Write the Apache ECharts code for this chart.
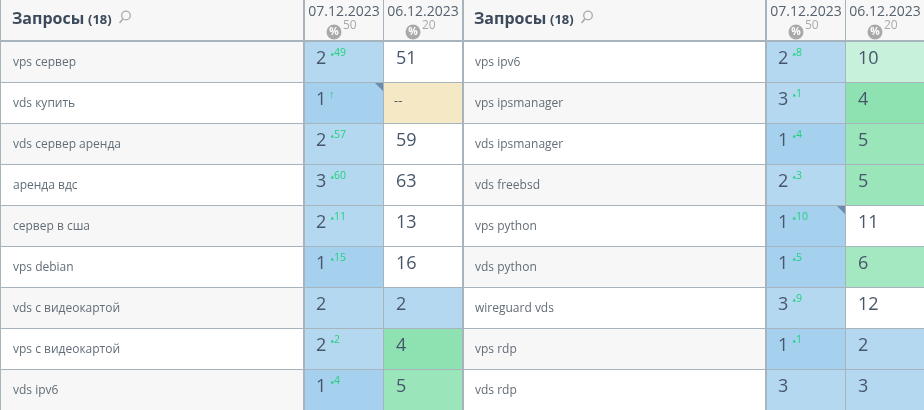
<!DOCTYPE html>
<html><head><meta charset="utf-8">
<style>html,body{margin:0;padding:0;background:#a7b3bd;overflow:hidden}#c{width:924px;height:410px}</style>
<script src="https://cdn.jsdelivr.net/npm/echarts@6/dist/echarts.min.js"></script>
</head><body><div id="c"></div>
<script>
const headerTitle = 'Запросы', headerCount = '(18)';
const dateNew = '07.12.2023', dateOld = '06.12.2023';
const thresholdNew = '50', thresholdOld = '20';
const queriesLeft = ['vps сервер','vds купить','vds сервер аренда','аренда вдс','сервер в сша','vps debian','vds с видеокартой','vps с видеокартой','vds ipv6'];
const rankLeft = [2,1,2,3,2,1,2,2,1];
const deltaLeft = [49,'↑',57,60,11,15,null,2,4];
const prevLeft = [51,'--',59,63,13,16,2,4,5];
const flagLeft = [0,1,0,0,0,0,0,0,0];
const queriesRight = ['vps ipv6','vps ipsmanager','vds ipsmanager','vds freebsd','vps python','vds python','wireguard vds','vps rdp','vds rdp'];
const rankRight = [2,3,1,2,1,1,3,1,3];
const deltaRight = [8,1,4,3,10,5,9,1,null];
const prevRight = [10,4,5,5,11,6,12,2,3];
const flagRight = [0,0,0,0,1,0,0,0,0];

const FONT = '"Open Sans", sans-serif';
const INK = '#47566a', TEXT = '#626d77', GREEN = '#1fd27c', GREY = '#a9a9a9';
function rankColor(v){ return v === 1 ? '#a5d1ef' : '#b5d8f1'; }
function prevColor(v){
  if (v === '--') return '#f5e8c5';
  return ({2:'#b5d8f1',3:'#b5d8f1',4:'#8ee1b1',5:'#9ae5b9',6:'#a3e8c1',10:'#c8f1db'})[v] || '#ffffff';
}
function cellTop(api,i){ return api.coord([0,i])[1] - api.size([0,1])[1]/2 + 1; }

function queryRender(names, firstGrey, pad){
  return function(p, api){
    const i = p.dataIndex, c = p.coordSys, y = cellTop(api,i);
    const bg = (i % 2 === 0) === firstGrey ? '#f7f7f7' : '#ffffff';
    return {type:'group',children:[
      {type:'rect',shape:{x:c.x,y:y,width:c.width,height:40},style:{fill:bg}},
      {type:'text',style:{x:c.x+pad,y:y+21,text:names[i],fill:TEXT,font:'12px '+FONT,verticalAlign:'middle'}}
    ]};
  };
}
function rankRender(vals, deltas, flags){
  return function(p, api){
    const i = p.dataIndex, c = p.coordSys, y = cellTop(api,i), x = c.x;
    const ch = [
      {type:'rect',shape:{x:x,y:y,width:c.width,height:40},style:{fill:rankColor(vals[i])}},
      {type:'text',style:{x:x+11,y:y+17,text:String(vals[i]),fill:INK,font:'18px '+FONT,verticalAlign:'middle'}}
    ];
    const d = deltas[i];
    if (d === '↑') {
      ch.push({type:'text',style:{x:x+24,y:y+12,text:d,fill:GREEN,font:'11px '+FONT,verticalAlign:'middle'}});
    } else if (d !== null) {
      ch.push({type:'polygon',shape:{points:[[x+25.5,y+13.5],[x+29,y+13.5],[x+27.25,y+10.5]]},style:{fill:GREEN}});
      ch.push({type:'text',style:{x:x+29,y:y+11.5,text:String(d),fill:GREEN,font:'10.5px '+FONT,verticalAlign:'middle'}});
    }
    if (flags[i]) {
      ch.push({type:'polygon',shape:{points:[[x+c.width-8,y],[x+c.width,y],[x+c.width,y+8]]},style:{fill:'#6c8cab'}});
    }
    return {type:'group',children:ch};
  };
}
function prevRender(vals){
  return function(p, api){
    const i = p.dataIndex, c = p.coordSys, y = cellTop(api,i), v = vals[i];
    const dash = v === '--';
    return {type:'group',children:[
      {type:'rect',shape:{x:c.x,y:y,width:c.width,height:40},style:{fill:prevColor(v)}},
      {type:'text',style:{x:c.x+(dash?10:12),y:y+(dash?18:17),text:String(v),fill:INK,font:(dash?'13px ':'18px ')+FONT,verticalAlign:'middle'}}
    ]};
  };
}

const cols = [
  {left:1,width:302,pad:12,names:queriesLeft,render:queryRender(queriesLeft,true,12)},
  {left:305,width:78,names:queriesLeft,date:dateNew,th:thresholdNew,render:rankRender(rankLeft,deltaLeft,flagLeft)},
  {left:384,width:78,names:queriesLeft,date:dateOld,th:thresholdOld,render:prevRender(prevLeft)},
  {left:464,width:301,pad:11,names:queriesRight,render:queryRender(queriesRight,false,11)},
  {left:767,width:78,names:queriesRight,date:dateNew,th:thresholdNew,render:rankRender(rankRight,deltaRight,flagRight)},
  {left:846,width:78,names:queriesRight,date:dateOld,th:thresholdOld,render:prevRender(prevRight)}
];

const graphic = [];
cols.forEach(c=>{
  graphic.push({type:'rect',z:-1,shape:{x:c.left,y:0,width:c.width,height:40},style:{fill:'#f7f7f7'}});
  if (c.date) {
    graphic.push({type:'circle',z:1,shape:{cx:c.left+29,cy:32,r:7.5},style:{fill:'#a9a9a9'}});
    graphic.push({type:'text',z:2,x:c.left+29,y:32,style:{text:'%',fill:'#fff',font:'bold 10.5px '+FONT,align:'center',verticalAlign:'middle'}});
    graphic.push({type:'text',z:2,x:c.left+38,y:26,style:{text:c.th,fill:GREY,font:'12px '+FONT,verticalAlign:'middle'}});
  } else {
    const t = c.pad;
    graphic.push({type:'text',z:2,x:c.left+t-1,y:19,style:{text:headerTitle,fill:'#3c4a5c',font:'bold 16px '+FONT,verticalAlign:'middle'}});
    graphic.push({type:'text',z:2,x:c.left+t+75,y:20,style:{text:headerCount,fill:'#3c4a5c',font:'bold 13px '+FONT,verticalAlign:'middle'}});
    graphic.push({type:'circle',z:2,shape:{cx:c.left+t+113,cy:15.5,r:4.3},style:{fill:'none',stroke:'#ababab',lineWidth:1.3}});
    graphic.push({type:'line',z:2,shape:{x1:c.left+t+110,y1:18.8,x2:c.left+t+106.5,y2:23},style:{stroke:'#ababab',lineWidth:1.6}});
  }
});

const option = {
  animation:false,
  backgroundColor:'#a7b3bd',
  graphic:{elements:graphic},
  grid:cols.map(c=>({left:c.left,width:c.width,top:41,height:369,containLabel:false})),
  xAxis:cols.map((c,k)=>({
    gridIndex:k,type:'category',position:'top',data:[c.date||headerTitle],
    axisLine:{show:false},axisTick:{show:false},splitLine:{show:false},
    axisLabel:{show:!!c.date,margin:22,color:'#56626e',fontFamily:'Open Sans',fontSize:14}
  })),
  yAxis:cols.map((c,k)=>({
    gridIndex:k,type:'category',inverse:true,data:c.names,
    axisLine:{show:false},axisTick:{show:false},axisLabel:{show:false},splitLine:{show:false}
  })),
  series:cols.map((c,k)=>({
    type:'custom',xAxisIndex:k,yAxisIndex:k,clip:false,silent:true,
    encode:{x:0,y:1},
    data:c.names.map((n,i)=>[0,i]),
    renderItem:c.render
  }))
};
const chart = echarts.init(document.getElementById('c'),null,{renderer:'canvas'});
chart.setOption(option);
</script></body></html>
